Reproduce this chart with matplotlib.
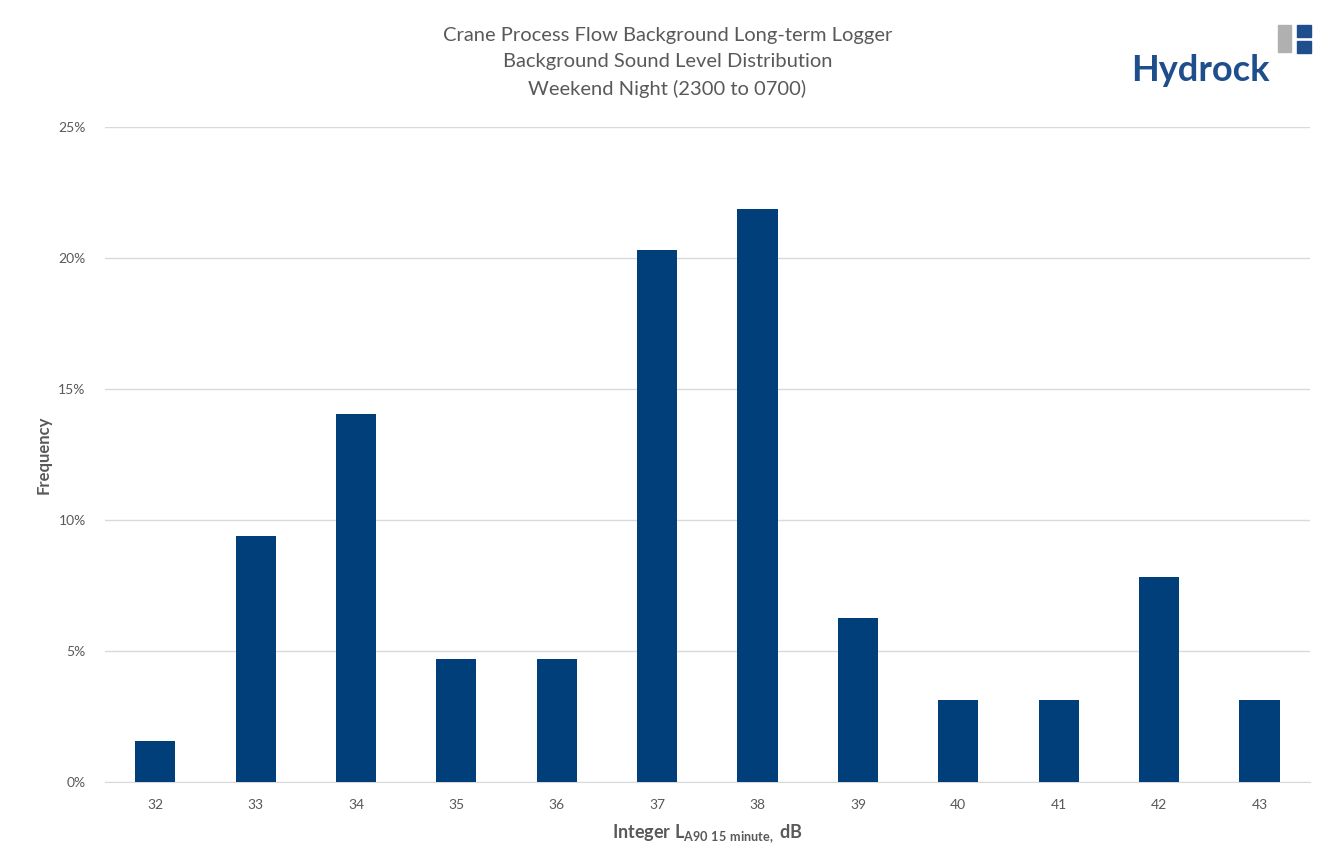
import matplotlib
matplotlib.use("Agg")
import matplotlib.pyplot as plt
from matplotlib.patches import Rectangle
from matplotlib.ticker import PercentFormatter

# Données
niveaux = ["32", "33", "34", "35", "36", "37", "38", "39", "40", "41", "42", "43"]
frequence = [1.5625, 9.375, 14.0625, 4.6875, 4.6875, 20.3125, 21.875,
             6.25, 3.125, 3.125, 7.8125, 3.125]

plt.rcParams['font.family'] = ['Lato', 'DejaVu Sans']

fig = plt.figure(figsize=(13.35, 8.67), dpi=100)
ax = fig.add_axes([0.0787, 0.098, 0.9023, 0.7555])

x = range(len(niveaux))
ax.bar(x, frequence, width=0.4, color='#003F7A', zorder=3)

ax.set_xlim(-0.5, len(niveaux) - 0.5)
ax.set_ylim(0, 25)
ax.set_yticks([0, 5, 10, 15, 20, 25])
ax.yaxis.set_major_formatter(PercentFormatter(decimals=0))
ax.set_xticks(list(x))
ax.set_xticklabels(niveaux)

ax.grid(axis='y', color='#d9d9d9', linewidth=1, zorder=0)
for s in ['top', 'right', 'left']:
    ax.spines[s].set_visible(False)
ax.spines['bottom'].set_color('#d9d9d9')
ax.tick_params(axis='both', length=0, colors='#595959', labelsize=10, pad=12)
ax.tick_params(axis='y', pad=14)

ax.set_ylabel("Frequency", fontsize=12, color='#595959', fontweight='bold', labelpad=5)
ax.set_xlabel(r"Integer L$_{\mathregular{A90\ 15\ minute,}}$ dB", fontsize=13,
              color='#595959', fontweight='bold', labelpad=8)

fig.text(0.5, 0.928, "Crane Process Flow Background Long-term Logger\n"
         "Background Sound Level Distribution\nWeekend Night (2300 to 0700)",
         ha='center', va='center', fontsize=14.5, color='#595959', linespacing=1.65)

# Logo Hydrock
fig.text(0.899, 0.919, "Hydrock", fontsize=26, color='#1F4E8C', fontweight='bold',
         ha='center', va='center')
fig.patches.append(Rectangle((1278 / 1335, 1 - 52 / 867), 13 / 1335, 27 / 867,
                             transform=fig.transFigure, color='#b0b0b0'))
fig.patches.append(Rectangle((1297 / 1335, 1 - 37 / 867), 14 / 1335, 12 / 867,
                             transform=fig.transFigure, color='#1F4E8C'))
fig.patches.append(Rectangle((1297 / 1335, 1 - 53 / 867), 14 / 1335, 12 / 867,
                             transform=fig.transFigure, color='#1F4E8C'))

fig.savefig("out.png", dpi=100)
